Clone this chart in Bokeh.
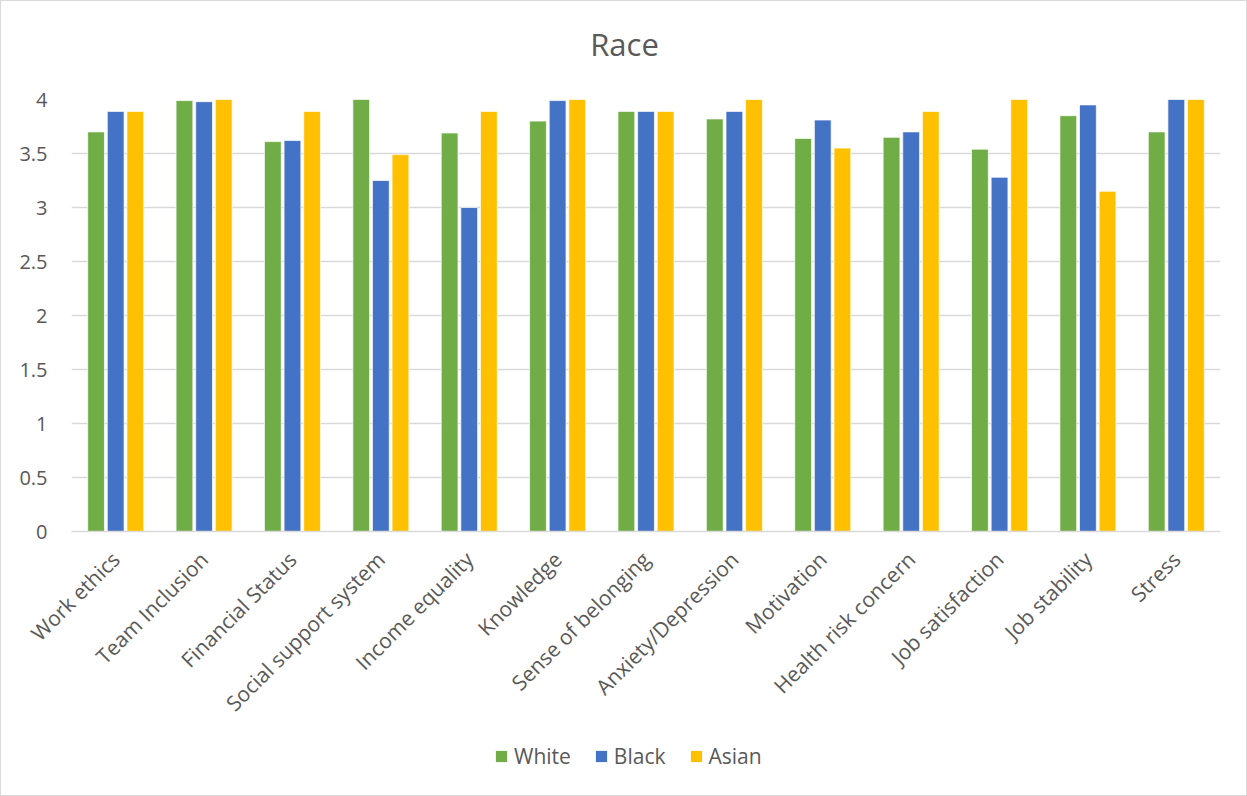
from math import pi

from bokeh.embed import file_html
from bokeh.resources import INLINE
from bokeh.layouts import column
from bokeh.plotting import figure
from bokeh.models import (ColumnDataSource, FactorRange, Range1d, FixedTicker,
                          Legend, LegendItem, Label)
from bokeh.transform import dodge

# Survey items (x categories)
categories = ["Work ethics", "Team Inclusion", "Financial Status",
              "Social support system", "Income equality", "Knowledge",
              "Sense of belonging", "Anxiety/Depression", "Motivation",
              "Health risk concern", "Job satisfaction", "Job stability",
              "Stress"]

# Mean score per group
white = [3.70, 3.99, 3.61, 4.00, 3.69, 3.80, 3.89, 3.82, 3.64, 3.65, 3.54, 3.85, 3.70]
black = [3.89, 3.98, 3.62, 3.25, 3.00, 3.99, 3.89, 3.89, 3.81, 3.70, 3.28, 3.95, 4.00]
asian = [3.89, 4.00, 3.89, 3.49, 3.89, 4.00, 3.89, 4.00, 3.55, 3.89, 4.00, 3.15, 4.00]

y_ticks = [0, 0.5, 1, 1.5, 2, 2.5, 3, 3.5, 4]
y_tick_labels = ["0", "0.5", "1", "1.5", "2", "2.5", "3", "3.5", "4"]

series_names = ["White", "Black", "Asian"]
series_colors = ["#70AD47", "#4472C4", "#FFC000"]

FONT = "Open Sans"
TEXT_COLOR = "#595959"
GRID_COLOR = "#D9D9D9"
WIDTH = 1245
BORDER_L, BORDER_R = 70, 26
# page x of the plot frame (1px outer border + left border)
FRAME_X0 = 1 + BORDER_L
FRAME_X1 = 1 + WIDTH - BORDER_R


def strip(height):
    """A blank, axis-less figure; its x data units are page pixels."""
    f = figure(width=WIDTH, height=height,
               x_range=Range1d(FRAME_X0, FRAME_X1), y_range=Range1d(0, height),
               output_backend="svg", toolbar_location=None,
               x_axis_location=None, y_axis_location=None,
               min_border_left=BORDER_L, min_border_right=BORDER_R,
               min_border_top=0, min_border_bottom=0,
               background_fill_color="white", border_fill_color="white")
    f.outline_line_color = None
    f.xgrid.visible = False
    f.ygrid.visible = False
    return f


# ---- title strip ----------------------------------------------------------
top = strip(69)
top.add_layout(Label(x=624, y=27, text="Race", text_font=FONT,
                     text_font_size="31px", text_color=TEXT_COLOR,
                     text_align="center", text_baseline="middle"))

# ---- main bar chart -------------------------------------------------------
source = ColumnDataSource(data=dict(cat=categories, White=white,
                                    Black=black, Asian=asian))

p = figure(width=WIDTH, height=662,
           x_range=FactorRange(*categories, range_padding=0),
           y_range=Range1d(0, 4),
           output_backend="svg", toolbar_location=None,
           min_border_left=BORDER_L, min_border_right=BORDER_R,
           min_border_top=29, min_border_bottom=201,
           background_fill_color="white", border_fill_color="white")
p.outline_line_color = None

offsets = [-0.222, 0.0, 0.222]
for name, color, off in zip(series_names, series_colors, offsets):
    p.vbar(x=dodge("cat", off, range=p.x_range), top=name, width=0.19,
           bottom=0, source=source, fill_color=color,
           line_color="white", line_width=1, line_alpha=0.7)

p.yaxis.ticker = FixedTicker(ticks=y_ticks)
p.yaxis.major_label_overrides = {t: s for t, s in zip(y_ticks, y_tick_labels)}
p.yaxis.axis_line_color = None
p.yaxis.major_tick_line_color = None
p.yaxis.minor_tick_line_color = None
p.yaxis.major_tick_out = 0
p.yaxis.major_tick_in = 0
p.yaxis.major_label_standoff = 24
p.yaxis.major_label_text_font = FONT
p.yaxis.major_label_text_font_size = "20px"
p.yaxis.major_label_text_color = TEXT_COLOR

p.xaxis.axis_line_color = GRID_COLOR
p.xaxis.axis_line_width = 1.5
p.xaxis.major_tick_line_color = None
p.xaxis.minor_tick_line_color = None
p.xaxis.major_tick_out = 0
p.xaxis.major_tick_in = 0
p.xaxis.major_label_orientation = pi / 4
p.xaxis.major_label_standoff = 24
p.xaxis.major_label_text_font = FONT
p.xaxis.major_label_text_font_size = "21px"
p.xaxis.major_label_text_color = TEXT_COLOR

p.xgrid.grid_line_color = None
p.ygrid.grid_line_color = GRID_COLOR
p.ygrid.grid_line_width = 1.5

# ---- legend strip along the bottom ----------------------------------------
leg = strip(63)
# hidden one-cell swatches: only their colours are used, by the legend
swatches = [leg.quad(left=[FRAME_X0], right=[FRAME_X0 + 1], top=[1], bottom=[0],
                     fill_color=color, line_color=None, visible=False)
            for color in series_colors]

legend = Legend(items=[LegendItem(label=n, renderers=[r])
                       for n, r in zip(series_names, swatches)],
                orientation="horizontal", location=(494 - FRAME_X0, 25),
                glyph_width=14, glyph_height=14, label_standoff=6,
                spacing=23, padding=0, margin=0,
                label_text_font=FONT, label_text_font_size="21px",
                label_text_color=TEXT_COLOR, border_line_color=None,
                background_fill_alpha=0)
leg.add_layout(legend, "center")

chart = column(top, p, leg, spacing=0,
               styles={"border": "1px solid #D9D9D9", "background": "white"})

open("out.html", "w").write(file_html(chart, INLINE))
